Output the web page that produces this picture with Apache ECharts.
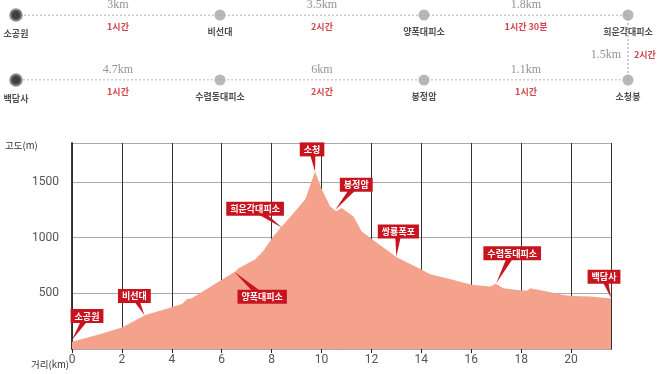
<!DOCTYPE html>
<html><head><meta charset="utf-8">
<script src="https://cdn.jsdelivr.net/npm/echarts/dist/echarts.min.js"></script>
<style>html,body{margin:0;padding:0;background:#fff}#c{width:658px;height:374px}</style>
</head><body><div id="c"></div>
<script>
// ---- elevation profile (distance km, altitude m) ----
const profileKm   = [0, 1.0, 2.0, 2.94, 4.0, 4.41, 4.6, 4.8, 6.0, 6.55, 6.68, 7.35, 7.68, 8.02, 8.35, 8.82, 9.35, 9.74, 10.0, 10.34, 10.58, 10.81, 11.28, 11.61, 12.01, 13.01, 14.02, 14.35, 15.02, 16.02, 16.76, 16.98, 17.29, 18.02, 18.25, 18.36, 19.03, 19.7, 20.04, 20.77, 21.6];
const profileElev = [66, 126, 192, 306, 375, 405, 447, 456, 621, 696, 726, 807, 885, 996, 1086, 1206, 1345, 1595, 1440, 1281, 1236, 1266, 1191, 1056, 987, 825, 711, 672, 636, 576, 561, 585, 546, 525, 525, 546, 516, 486, 477, 471, 453];

// ---- named places on the profile ----
const markerNames = ['소공원', '비선대', '양폭대피소', '희운각대피소', '소청', '봉정암', '쌍룡폭포', '수렴동대피소', '백담사'];
const markerKm    = [0, 2.9, 6.5, 8.42, 9.74, 10.55, 13.0, 17.0, 21.6];
const markerElev  = [80, 306, 694, 1090, 1595, 1250, 830, 590, 460];

// ---- axes ----
const xMax = 21.6, xStep = 2;
const yMax = 1850, yStep = 500;
const yAxisTitle = '고도(m)';
const xAxisTitle = '거리(km)';

// ---- route diagram ----
const topStations    = ['소공원', '비선대', '양폭대피소', '희운각대피소'];
const topDistances   = ['3km', '3.5km', '1.8km'];
const topTimes       = ['1시간', '2시간', '1시간 30분'];
const bottomStations = ['백담사', '수렴동대피소', '봉정암', '소청봉'];
const bottomDistances= ['4.7km', '6km', '1.1km'];
const bottomTimes    = ['1시간', '2시간', '1시간'];
const linkDistance = '1.5km';
const linkTime = '2시간';

// ---- styles (kept apart from data) ----
const RED = '#c8141f';
const FILL = '#f4a28c';
const KR = '"Noto Sans CJK KR", sans-serif';
const labelOffsets = [[15,-24],[-10,-19],[28,25],[-27,-19],[-3,-22],[21,-25],[2,-25],[16,-30],[-7,-21]];

const profile = profileKm.map((k,i)=>[k, profileElev[i]]);
const markers = markerNames.map((n,i)=>({name:n, value:[markerKm[i], markerElev[i]]}));

const nodes = [];
topStations.forEach((n,i)=>nodes.push({name:n, value:[i,1]}));
bottomStations.forEach((n,i)=>nodes.push({name:n, value:[i,0]}));
const startStyle = {color:'#111', borderColor:'#777a7d', borderWidth:2.5};
nodes[0].itemStyle = startStyle; nodes[4].itemStyle = startStyle;

const distPts = [], timePts = [];
topDistances.forEach((d,i)=>distPts.push({name:d, value:[i+0.5,1]}));
bottomDistances.forEach((d,i)=>distPts.push({name:d, value:[i+0.5,0]}));
topTimes.forEach((t,i)=>timePts.push({name:t, value:[i+0.5,1]}));
bottomTimes.forEach((t,i)=>timePts.push({name:t, value:[i+0.5,0]}));

const chart = echarts.init(document.getElementById('c'), null, {renderer:'canvas'});
chart.setOption({
  animation:false,
  backgroundColor:'#fff',
  grid:[
    {left:72, right:47, top:143, bottom:25},
    {left:16, right:30, top:15, height:65}
  ],
  xAxis:[
    {type:'value', gridIndex:0, min:0, max:xMax, interval:xStep,
     axisLine:{lineStyle:{color:'#222', width:2}},
     axisTick:{show:true, length:4, lineStyle:{color:'#222'}},
     axisLabel:{color:'#555', fontSize:12, fontFamily:'Roboto', margin:5, showMaxLabel:false},
     splitLine:{show:true, lineStyle:{color:'#333', width:1}}},
    {type:'value', gridIndex:0, position:'top', min:0, max:xMax,
     axisLine:{show:true, lineStyle:{color:'#aaa', width:1}}, axisTick:{show:false}, axisLabel:{show:false}, splitLine:{show:false}},
    {type:'value', gridIndex:1, min:0, max:3, show:false}
  ],
  yAxis:[
    {type:'value', gridIndex:0, min:0, max:yMax, interval:yStep,
     axisLine:{show:true, lineStyle:{color:'#222', width:1.5}},
     axisTick:{show:false},
     axisLabel:{color:'#555', fontSize:12, fontFamily:'Roboto', margin:13, showMaxLabel:false,
       formatter:v=> v===0 ? '' : String(v)},
     splitLine:{show:true, lineStyle:{color:'#aaa', width:1}}},
    {type:'value', gridIndex:0, position:'right', min:0, max:yMax,
     axisLine:{show:true, lineStyle:{color:'#333', width:1.5}}, axisTick:{show:false}, axisLabel:{show:false}, splitLine:{show:false}},
    {type:'value', gridIndex:1, min:0, max:1, show:false}
  ],
  graphic:[
    {type:'text', left:5, top:141, style:{text:yAxisTitle, fill:'#333', font:'9.5px '+KR}},
    {type:'text', left:31, top:360, style:{text:xAxisTitle, fill:'#333', font:'9.5px '+KR}}
  ],
  series:[
    {type:'line', xAxisIndex:0, yAxisIndex:0, data:profile, symbol:'none', smooth:false,
     lineStyle:{width:0}, areaStyle:{color:FILL, opacity:1}, z:1},
    {type:'custom', xAxisIndex:0, yAxisIndex:0, data:markers, clip:false, z:5,
     renderItem:(params, api)=>{
       const p = api.coord([api.value(0), api.value(1)]);
       const off = labelOffsets[params.dataIndex];
       const cx = p[0]+off[0], cy = p[1]+off[1];
       const dx = p[0]-cx, dy = p[1]-cy, len = Math.hypot(dx,dy)||1;
       const nx = -dy/len*3.5, ny = dx/len*3.5;
       return {type:'group', children:[
         {type:'polygon', shape:{points:[[cx+nx,cy+ny],[cx-nx,cy-ny],[p[0],p[1]]]}, style:{fill:RED}},
         {type:'text', x:cx, y:cy, style:{text:markerNames[params.dataIndex], fill:'#fff', backgroundColor:RED,
           padding:[3,4,2,4], align:'center', verticalAlign:'middle', font:'bold 9px '+KR}}
       ]};
     }},
    // route diagram
    {type:'line', xAxisIndex:2, yAxisIndex:2, data:[[0,1],[3,1],[3,0],[0,0]], symbol:'none',
     lineStyle:{color:'#9a9a9a', width:1, type:[2,2]}, z:1},
    {type:'scatter', xAxisIndex:2, yAxisIndex:2, data:nodes, symbolSize:11,
     itemStyle:{color:'#a2a7ac'}, z:3,
     label:{show:true, position:'bottom', distance:7, formatter:'{b}', color:'#222', fontSize:9, fontWeight:'bold', fontFamily:KR}},
    {type:'scatter', xAxisIndex:2, yAxisIndex:2, data:distPts, symbolSize:0,
     label:{show:true, position:'top', distance:4, formatter:'{b}', color:'#777', fontSize:12, fontFamily:'"Liberation Serif", serif'}},
    {type:'scatter', xAxisIndex:2, yAxisIndex:2, data:timePts, symbolSize:0,
     label:{show:true, position:'bottom', distance:7, formatter:'{b}', color:RED, fontSize:9, fontWeight:'bold', fontFamily:KR}},
    {type:'scatter', xAxisIndex:2, yAxisIndex:2, data:[{name:linkDistance, value:[3,0.5]}], symbolSize:0,
     label:{show:true, position:'left', distance:7, offset:[0,7], formatter:'{b}', color:'#777', fontSize:12, fontFamily:'"Liberation Serif", serif'}},
    {type:'scatter', xAxisIndex:2, yAxisIndex:2, data:[{name:linkTime, value:[3,0.5]}], symbolSize:0,
     label:{show:true, position:'right', distance:6, offset:[0,7], formatter:'{b}', color:RED, fontSize:9, fontWeight:'bold', fontFamily:KR}}
  ]
});
</script></body></html>
